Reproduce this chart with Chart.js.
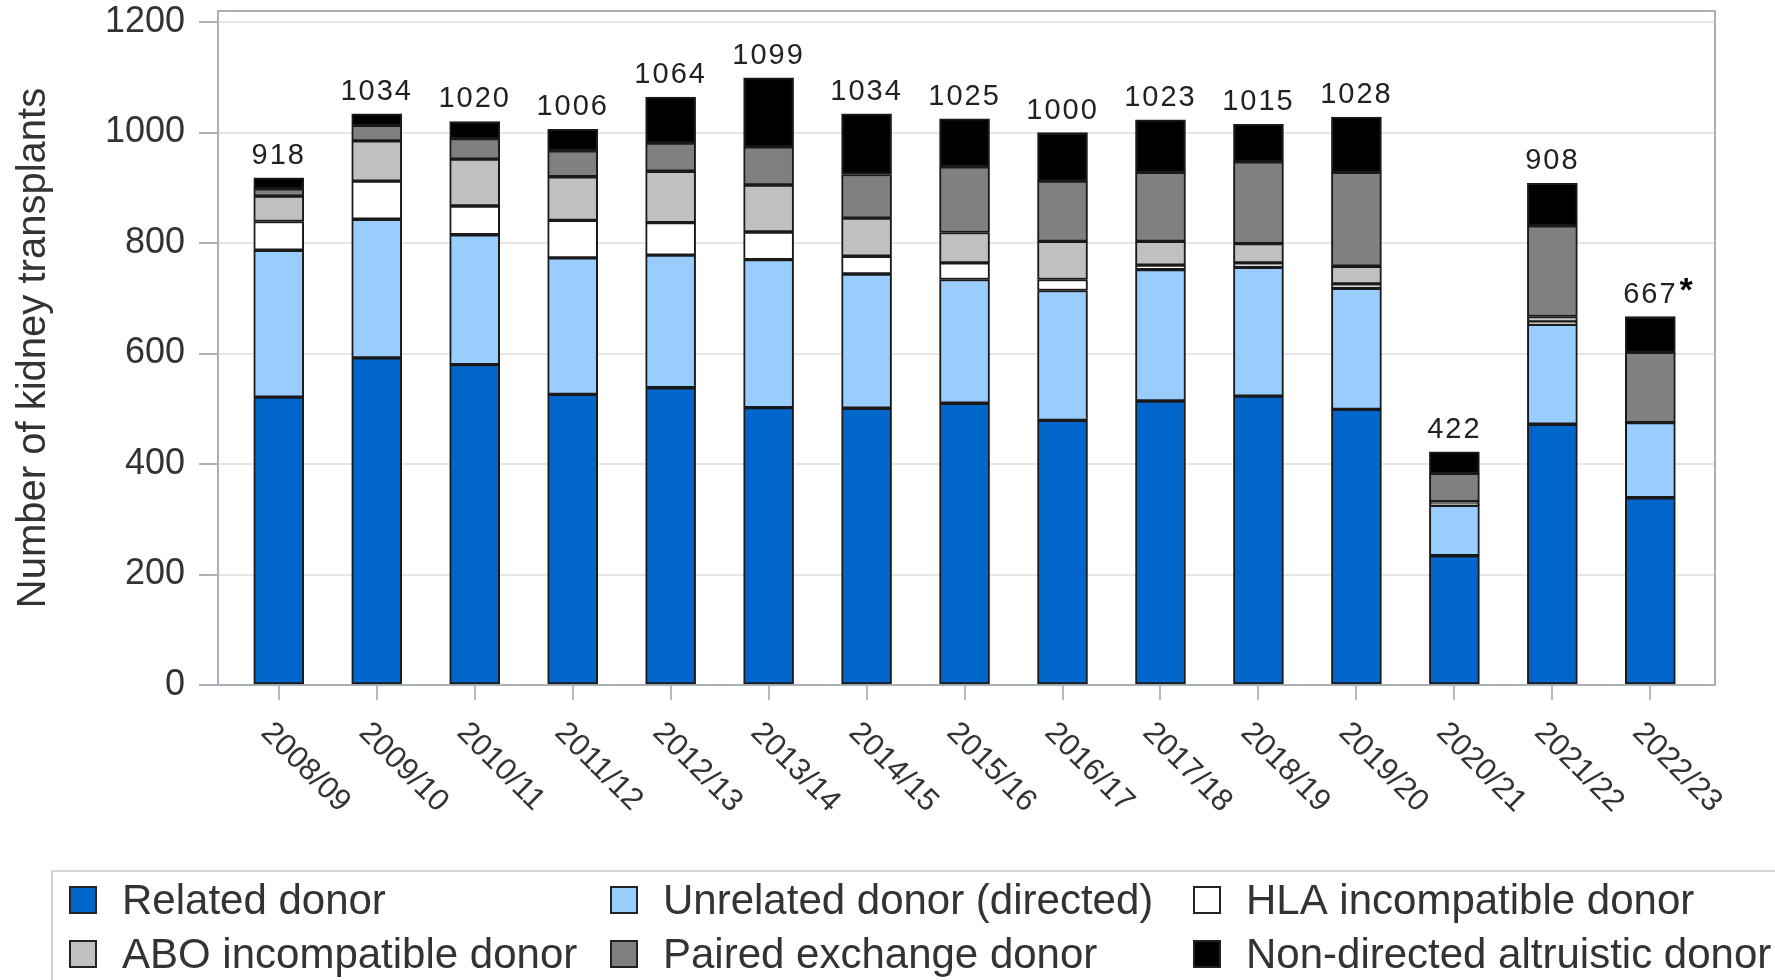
<!DOCTYPE html>
<html>
<head>
<meta charset="utf-8">
<title>Kidney transplants by donor type</title>
<script src="https://cdn.jsdelivr.net/npm/chart.js@4.4.1/dist/chart.umd.min.js"></script>
<style>
    body { margin: 0; background: #fff; }
    #wrap { width: 1775px; height: 980px; }
</style>
</head>
<body>
<div id="wrap"><canvas id="transplantChart" width="1775" height="980"></canvas></div>
<script>
// financial years on the x axis
const seasons = ["2008/09", "2009/10", "2010/11", "2011/12", "2012/13", "2013/14", "2014/15", "2015/16",
    "2016/17", "2017/18", "2018/19", "2019/20", "2020/21", "2021/22", "2022/23"];

// segment values (bottom to top)
const relatedDonor = [521, 592, 580, 526, 538, 502, 501, 510, 479, 514, 523, 499, 234, 472, 339];
const unrelatedDirected = [266, 251, 235, 247, 240, 268, 243, 224, 235, 238, 233, 219, 91, 181, 136];
const hlaIncompatible = [52, 69, 52, 68, 59, 50, 32, 30, 20, 8, 8, 8, 2, 4, 0];
const aboIncompatible = [46, 73, 85, 79, 93, 85, 69, 55, 69, 43, 35, 32, 5, 10, 0];
const pairedExchange = [13, 28, 37, 47, 51, 69, 79, 119, 109, 125, 148, 170, 51, 164, 127];
const nonDirectedAltruistic = [20, 21, 31, 39, 83, 125, 110, 87, 88, 95, 68, 100, 39, 77, 65];

// totals printed above each bar, and the footnote mark
const totals = [918, 1034, 1020, 1006, 1064, 1099, 1034, 1025, 1000, 1023, 1015, 1028, 422, 908, 667];
const totalNotes = ["", "", "", "", "", "", "", "", "", "", "", "", "", "", "*"];

const yTicks = [0, 200, 400, 600, 800, 1000, 1200];

const FONT = "'Liberation Sans', Arial, sans-serif";

const series = [
    { label: "Related donor", values: relatedDonor, color: "#0066cc" },
    { label: "Unrelated donor (directed)", values: unrelatedDirected, color: "#99ccff" },
    { label: "HLA incompatible donor", values: hlaIncompatible, color: "#ffffff" },
    { label: "ABO incompatible donor", values: aboIncompatible, color: "#c0c0c0" },
    { label: "Paired exchange donor", values: pairedExchange, color: "#808080" },
    { label: "Non-directed altruistic donor", values: nonDirectedAltruistic, color: "#000000" }
];

// frame, totals, slanted year labels and the boxed legend
const decorations = {
    id: "decorations",
    beforeDatasetsDraw(chart) {
        const ctx = chart.ctx, ca = chart.chartArea;
        ctx.save();
        ctx.strokeStyle = "#a9b0b7";
        ctx.lineWidth = 2;
        ctx.strokeRect(ca.left, ca.top, ca.right - ca.left, ca.bottom - ca.top);
        ctx.restore();
    },
    afterDatasetsDraw(chart) {
        const ctx = chart.ctx;
        const x = chart.scales.x, y = chart.scales.y;
        ctx.save();
        ctx.fillStyle = "#222";
        ctx.font = "29px " + FONT;
        ctx.letterSpacing = "2px";
        ctx.textAlign = "center";
        ctx.textBaseline = "alphabetic";
        totals.forEach((t, i) => {
            const px = x.getPixelForValue(i);
            const py = y.getPixelForValue(t) - 14;
            ctx.fillText(String(t), px, py);
            if (totalNotes[i]) {
                const w = ctx.measureText(String(t)).width;
                ctx.save();
                ctx.font = "bold 34px " + FONT;
                ctx.letterSpacing = "0px";
                ctx.textAlign = "left";
                ctx.fillStyle = "#000";
                ctx.fillText(totalNotes[i], px + w / 2 + 2, py - 2);
                ctx.restore();
            }
        });
        ctx.restore();
    },
    afterDraw(chart) {
        const ctx = chart.ctx;
        const x = chart.scales.x, ca = chart.chartArea;

        // year labels, slanted down to the right
        ctx.save();
        ctx.fillStyle = "#333";
        ctx.font = "31px " + FONT;
        ctx.textAlign = "left";
        ctx.textBaseline = "middle";
        seasons.forEach((s, i) => {
            const px = x.getPixelForValue(i);
            ctx.save();
            ctx.translate(px - 13, ca.bottom + 43);
            ctx.rotate(Math.PI / 4);
            ctx.fillText(s, 0, 0);
            ctx.restore();
        });
        ctx.restore();

        // legend box
        ctx.save();
        ctx.strokeStyle = "#d4d4d4";
        ctx.lineWidth = 2;
        ctx.strokeRect(52, 871, 1800, 200);
        const cols = [70, 611, 1194];
        const rows = [900, 954];
        ctx.font = "42px " + FONT;
        ctx.textBaseline = "middle";
        ctx.textAlign = "left";
        chart.data.datasets.forEach((ds, k) => {
            const cx = cols[k % 3], cy = rows[Math.floor(k / 3)];
            ctx.fillStyle = ds.backgroundColor;
            ctx.fillRect(cx, cy - 13, 26, 26);
            ctx.strokeStyle = "#222";
            ctx.lineWidth = 2;
            ctx.strokeRect(cx, cy - 13, 26, 26);
            ctx.fillStyle = "#333";
            ctx.fillText(ds.label, cx + 52, cy + 2);
        });
        ctx.restore();
    }
};

const ctx = document.getElementById("transplantChart").getContext("2d");

new Chart(ctx, {
    type: "bar",
    data: {
        datasets: series.map(s => ({
            label: s.label,
            data: s.values.map((v, i) => ({ x: i, y: v })),
            backgroundColor: s.color,
            borderColor: "#1a1a1a",
            borderWidth: 2,
            borderSkipped: false,
            barThickness: 50
        }))
    },
    options: {
        responsive: false,
        animation: false,
        layout: { padding: { left: 0, right: 60, top: 11, bottom: 295 } },
        plugins: {
            legend: { display: false },
            tooltip: { enabled: false }
        },
        scales: {
            x: {
                type: "linear",
                stacked: true,
                offset: false,
                min: -0.62,
                max: 14.66,
                afterBuildTicks: axis => { axis.ticks = seasons.map((s, i) => ({ value: i })); },
                afterFit: axis => { axis.height = 0; axis.paddingLeft = 0; axis.paddingRight = 0; },
                ticks: { display: false },
                grid: { offset: false, drawOnChartArea: false, drawTicks: true, tickLength: 15, tickColor: "#b4bac0", lineWidth: 2 },
                border: { display: false }
            },
            y: {
                stacked: true,
                min: 0,
                max: 1220,
                afterBuildTicks: axis => { axis.ticks = yTicks.map(v => ({ value: v })); },
                afterFit: axis => { axis.width = 218; axis.paddingTop = 0; axis.paddingBottom = 0; },
                ticks: {
                    color: "#333",
                    font: { family: FONT, size: 36 },
                    padding: 14,
                    callback: v => String(v)
                },
                grid: { color: "#e6e6e6", lineWidth: 2, tickColor: "#a9b0b7", tickLength: 19 },
                border: { display: false },
                title: {
                    display: true,
                    text: "Number of kidney transplants",
                    color: "#333",
                    font: { family: FONT, size: 40 },
                    padding: { top: 10, bottom: 0 }
                }
            }
        }
    },
    plugins: [decorations]
});
</script>
</body>
</html>
